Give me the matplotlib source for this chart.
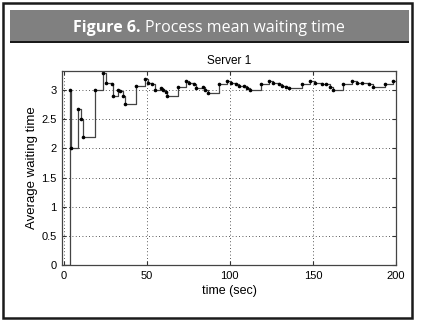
import matplotlib
matplotlib.use("Agg")
import matplotlib.pyplot as plt
from matplotlib.patches import Rectangle
import numpy as np

plt.rcParams["font.family"] = ["Liberation Sans", "DejaVu Sans"]

# step times (sec) and running mean waiting time
times = [0, 3.6, 4.6, 8.8, 10.2, 11.5, 18.8, 23.4, 25.4, 28.8, 29.8, 32.6, 34.2,
         35.5, 36.8, 43.8, 48.8, 50.5, 53.3, 54.8, 58.7, 59.9, 61.3, 62.0, 68.7,
         73.7, 75.7, 78.3, 79.9, 83.9, 85.3, 87.0, 93.3, 98.3, 100.7, 103.7, 105.5,
         108.3, 110.3, 112.0, 118.7, 123.3, 125.9, 129.3, 131.3, 134.0, 135.9,
         143.3, 148.4, 151.4, 155.4, 158.0, 160.4, 162.0, 168.4, 173.4, 176.4,
         179.4, 184.0, 186.4, 193.4, 198.4, 200]
wait = [0, 3.0, 2.0, 2.67, 2.5, 2.2, 3.0, 3.29, 3.13, 3.10, 2.9, 3.0, 2.98,
        2.9, 2.76, 3.07, 3.2, 3.13, 3.11, 3.0, 3.04, 3.01, 2.97, 2.9, 3.06,
        3.16, 3.13, 3.1, 3.03, 3.06, 3.01, 2.96, 3.1, 3.16, 3.13, 3.1, 3.08,
        3.07, 3.03, 3.0, 3.1, 3.15, 3.13, 3.1, 3.08, 3.06, 3.03,
        3.1, 3.15, 3.13, 3.11, 3.1, 3.06, 3.01, 3.1, 3.15, 3.13,
        3.12, 3.1, 3.06, 3.11, 3.15, 3.15]
xticks = [0, 50, 100, 150, 200]
yticks = [0, 0.5, 1, 1.5, 2, 2.5, 3]

fig = plt.figure(figsize=(4.21, 3.22), dpi=100)

# outer frame and header bar
fig.patches.append(Rectangle((3 / 421, 4 / 322), 409 / 421, 315 / 322, transform=fig.transFigure,
                             fill=False, edgecolor="#1a1a1a", linewidth=1.8))
fig.patches.append(Rectangle((10 / 421, 1 - 41 / 322), 399 / 421, 31 / 322, transform=fig.transFigure,
                             facecolor="#808080", edgecolor="none"))
fig.patches.append(Rectangle((10 / 421, 1 - 43 / 322), 399 / 421, 1.6 / 322, transform=fig.transFigure,
                             facecolor="#1a1a1a", edgecolor="none"))
t1 = fig.text(73 / 421, 1 - 28 / 322, "Figure 6.", color="white", fontsize=11.5,
              fontweight="bold", family="Open Sans", va="center", ha="left")
fig.canvas.draw()
bb = t1.get_window_extent()
fig.text(bb.x1 / 421 + 0.01, 1 - 28 / 322, "Process mean waiting time", color="white",
         fontsize=11.5, family="Open Sans", va="center", ha="left")

ax = fig.add_axes([62 / 421, 1 - 265 / 322, 334 / 421, 194 / 322])
ax.step(times, wait, where="post", color="#444444", linewidth=0.9)
ax.plot(times[1:-1], wait[1:-1], linestyle="none", marker="o", markersize=1.6,
        color="black")

ax.set_xlim(-1, 200)
ax.set_ylim(0, 3.33)
ax.set_xticks(xticks)
ax.set_yticks(yticks)
ax.set_yticklabels(["0", "0.5", "1", "1.5", "2", "2.5", "3"])
ax.grid(True, color="#222222", linestyle=(0, (1, 3)), linewidth=0.6)
ax.tick_params(direction="in", length=3, top=True, right=True, labelsize=8, pad=4,
               color="#333333")
for s in ax.spines.values():
    s.set_color("#444444")
    s.set_linewidth(0.9)

ax.set_title("Server 1", fontsize=8.5, pad=5)
ax.set_xlabel("time (sec)", fontsize=9, labelpad=3)
ax.set_ylabel("Average waiting time", fontsize=9.5, labelpad=2)

fig.savefig("out.png", dpi=100)
